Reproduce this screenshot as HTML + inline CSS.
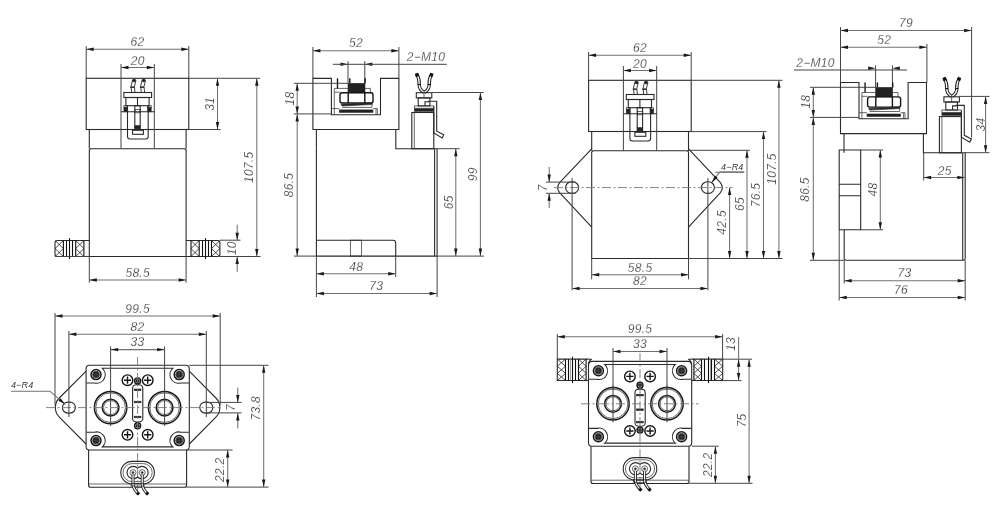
<!DOCTYPE html>
<html><head><meta charset="utf-8"><style>
html,body{margin:0;padding:0;background:#fff;}
svg{display:block;will-change:transform;}
.o{fill:none;stroke:#2a2a2a;stroke-width:1.1;}
.t{fill:none;stroke:#2a2a2a;stroke-width:0.7;}
.o2{fill:none;stroke:#151515;stroke-width:1.4;}
.o3{fill:none;stroke:#1a1a1a;stroke-width:1.5;}
.wl{fill:none;stroke:#555;stroke-width:0.5;}
.f{fill:#151515;}
.w{fill:none;stroke:#2a2a2a;stroke-width:0.9;}
.h{fill:none;stroke:#111;stroke-width:1.1;}
.hx{fill:none;stroke:#222;stroke-width:0.8;}
.t2{fill:none;stroke:#888;stroke-width:0.8;}
.f{fill:#222;stroke:#2a2a2a;stroke-width:0.6;}
.e{fill:none;stroke:#444;stroke-width:1;}
.d{fill:none;stroke:#707070;stroke-width:1.05;}
.c{fill:none;stroke:#777;stroke-width:0.9;stroke-dasharray:9 2.5 2 2.5;}
.a{fill:#1a1a1a;stroke:none;}
text{font-family:"Liberation Sans",sans-serif;font-style:italic;font-size:12px;letter-spacing:0.3px;fill:#111;stroke:#fff;stroke-width:0.28px;}
text.s{font-size:9px;letter-spacing:0.2px;stroke-width:0;fill:#333;}
</style></head><body>
<svg width="1000" height="514" viewBox="0 0 1000 514">
<rect class="o" x="86.2" y="78.3" width="102.6" height="51.2"/>
<line class="o" x1="89.3" y1="129.5" x2="89.3" y2="148.8"/>
<line class="o" x1="186.1" y1="129.5" x2="186.1" y2="148.8"/>
<path class="o" d="M89.3,256.5 V150 L90.5,148.8 H184.9 L186.1,150 V256.5 Z" />
<line class="e" x1="121" y1="64" x2="121" y2="148.8"/>
<line class="e" x1="154.3" y1="64" x2="154.3" y2="148.8"/>
<path class="w" d="M131.7,92.4 Q130,86.5 132.5,80.2 M135,92.4 Q133.3,86.5 135.9,80.7" />
<ellipse class="f" cx="134.1" cy="80.5" rx="1.7" ry="1.4"/>
<rect class="f" x="130.7" y="86.8" width="3.5" height="0.9"/>
<path class="w" d="M141.3,92.4 Q139.6,86.5 142.1,80.2 M144.6,92.4 Q142.9,86.5 145.5,80.7" />
<ellipse class="f" cx="143.7" cy="80.5" rx="1.7" ry="1.4"/>
<rect class="f" x="140.3" y="86.8" width="3.5" height="0.9"/>
<rect class="o" x="123.9" y="92.5" width="27.7" height="5"/>
<rect class="o" x="125.9" y="97.5" width="23.2" height="8.2"/>
<line class="o" x1="137.5" y1="97.5" x2="137.5" y2="105.7"/>
<rect class="f" x="123.9" y="107.2" width="3.7" height="4.6"/>
<rect class="t" x="123.9" y="105.7" width="3.7" height="1.5"/>
<rect class="f" x="147.6" y="107.2" width="3.6" height="4.6"/>
<rect class="t" x="147.6" y="105.7" width="3.6" height="1.5"/>
<line class="o" x1="121" y1="111.8" x2="154.6" y2="111.8"/>
<path class="o" d="M127.5,105.7 V136.5 Q127.5,139 130,139 H145.7 Q148.2,139 148.2,136.5 V105.7" />
<rect class="o" x="134.8" y="105.7" width="5.4" height="23.3"/>
<rect class="f" x="135" y="125.6" width="5" height="3.2"/>
<rect class="t" x="135" y="109.5" width="5" height="3.3"/>
<rect class="o" x="132.5" y="130.3" width="10.9" height="4"/>
<path class="o" d="M89.3,240.5 H57.2 Q55,240.5 55,242.7 V254.3 Q55,256.5 57.2,256.5 H89.3" />
<line class="h" x1="63.4" y1="240.5" x2="63.4" y2="256.5"/>
<path class="hx" d="M55,240.5 L63.4,248.5 M63.4,240.5 L55,248.5 M55,248.5 L63.4,256.5 M63.4,248.5 L55,256.5 " />
<line class="h" x1="75.7" y1="240.5" x2="75.7" y2="256.5"/>
<line class="h" x1="83.9" y1="240.5" x2="83.9" y2="256.5"/>
<path class="hx" d="M75.7,240.5 L83.9,248.5 M83.9,240.5 L75.7,248.5 M75.7,248.5 L83.9,256.5 M83.9,248.5 L75.7,256.5 " />
<line class="h" x1="66.5" y1="240.5" x2="66.5" y2="256.5"/>
<line class="h" x1="72.5" y1="240.5" x2="72.5" y2="256.5"/>
<line class="h" x1="69.5" y1="238.1" x2="69.5" y2="259.1"/>
<path class="o" d="M186.1,240.5 H217.7 Q219.9,240.5 219.9,242.7 V254.3 Q219.9,256.5 217.7,256.5 H186.1" />
<line class="h" x1="211.5" y1="240.5" x2="211.5" y2="256.5"/>
<path class="hx" d="M219.9,240.5 L211.5,248.5 M211.5,240.5 L219.9,248.5 M219.9,248.5 L211.5,256.5 M211.5,248.5 L219.9,256.5 " />
<line class="h" x1="199.2" y1="240.5" x2="199.2" y2="256.5"/>
<line class="h" x1="191" y1="240.5" x2="191" y2="256.5"/>
<path class="hx" d="M199.2,240.5 L191,248.5 M191,240.5 L199.2,248.5 M199.2,248.5 L191,256.5 M191,248.5 L199.2,256.5 " />
<line class="h" x1="208.5" y1="240.5" x2="208.5" y2="256.5"/>
<line class="h" x1="202.5" y1="240.5" x2="202.5" y2="256.5"/>
<line class="h" x1="205.5" y1="238.1" x2="205.5" y2="259.1"/>
<line class="e" x1="86.2" y1="46" x2="86.2" y2="78.3"/>
<line class="e" x1="188.8" y1="46" x2="188.8" y2="78.3"/>
<line class="d" x1="86.2" y1="49.3" x2="188.8" y2="49.3"/>
<polygon class="a" points="86.2,49.3 93.7,47.6 93.7,51"/>
<polygon class="a" points="188.8,49.3 181.3,47.6 181.3,51"/>
<text x="137.5" y="46" text-anchor="middle">62</text>
<line class="d" x1="121" y1="67.5" x2="154.3" y2="67.5"/>
<polygon class="a" points="121,67.5 128.5,65.8 128.5,69.2"/>
<polygon class="a" points="154.3,67.5 146.8,65.8 146.8,69.2"/>
<text x="137.65" y="64.8" text-anchor="middle">20</text>
<line class="e" x1="188.8" y1="78.3" x2="260" y2="78.3"/>
<line class="e" x1="188.8" y1="129.5" x2="220.5" y2="129.5"/>
<line class="d" x1="217.5" y1="78.3" x2="217.5" y2="129.5"/>
<polygon class="a" points="217.5,78.3 215.8,85.8 219.2,85.8"/>
<polygon class="a" points="217.5,129.5 215.8,122 219.2,122"/>
<text transform="translate(214.2,103.9) rotate(-90)" x="0" y="0" text-anchor="middle">31</text>
<line class="d" x1="256.8" y1="78.3" x2="256.8" y2="256.5"/>
<polygon class="a" points="256.8,78.3 255.1,85.8 258.5,85.8"/>
<polygon class="a" points="256.8,256.5 255.1,249 258.5,249"/>
<text transform="translate(253.4,167.2) rotate(-90)" x="0" y="0" text-anchor="middle">107.5</text>
<line class="e" x1="219.7" y1="240.2" x2="240.5" y2="240.2"/>
<line class="e" x1="219.7" y1="256.5" x2="260.5" y2="256.5"/>
<line class="e" x1="54.8" y1="256.5" x2="89.3" y2="256.5"/>
<line class="o" x1="89.3" y1="256.5" x2="186.1" y2="256.5"/>
<line class="d" x1="237.2" y1="224.8" x2="237.2" y2="240.2"/>
<polygon class="a" points="237.2,240.2 235.5,232.7 238.9,232.7"/>
<line class="d" x1="237.2" y1="256.5" x2="237.2" y2="271.8"/>
<polygon class="a" points="237.2,256.5 235.5,264 238.9,264"/>
<text transform="translate(236.2,248.3) rotate(-90)" x="0" y="0" text-anchor="middle">10</text>
<line class="e" x1="89.3" y1="256.5" x2="89.3" y2="282.7"/>
<line class="e" x1="186.1" y1="256.5" x2="186.1" y2="282.7"/>
<line class="d" x1="89.3" y1="280" x2="186.1" y2="280"/>
<polygon class="a" points="89.3,280 96.8,278.3 96.8,281.7"/>
<polygon class="a" points="186.1,280 178.6,278.3 178.6,281.7"/>
<text x="137.7" y="277" text-anchor="middle">58.5</text>
<rect class="o" x="588.6" y="80.3" width="102.6" height="51.2"/>
<line class="o" x1="591.7" y1="131.5" x2="591.7" y2="150.8"/>
<line class="o" x1="688.5" y1="131.5" x2="688.5" y2="150.8"/>
<path class="o" d="M591.7,258.5 V152 L592.9,150.8 H687.3 L688.5,152 V258.5 Z" />
<line class="e" x1="623.4" y1="66" x2="623.4" y2="150.8"/>
<line class="e" x1="656.7" y1="66" x2="656.7" y2="150.8"/>
<path class="w" d="M634.1,94.4 Q632.4,88.5 634.9,82.2 M637.4,94.4 Q635.7,88.5 638.3,82.7" />
<ellipse class="f" cx="636.5" cy="82.5" rx="1.7" ry="1.4"/>
<rect class="f" x="633.1" y="88.8" width="3.5" height="0.9"/>
<path class="w" d="M643.7,94.4 Q642,88.5 644.5,82.2 M647,94.4 Q645.3,88.5 647.9,82.7" />
<ellipse class="f" cx="646.1" cy="82.5" rx="1.7" ry="1.4"/>
<rect class="f" x="642.7" y="88.8" width="3.5" height="0.9"/>
<rect class="o" x="626.3" y="94.5" width="27.7" height="5"/>
<rect class="o" x="628.3" y="99.5" width="23.2" height="8.2"/>
<line class="o" x1="639.9" y1="99.5" x2="639.9" y2="107.7"/>
<rect class="f" x="626.3" y="109.2" width="3.7" height="4.6"/>
<rect class="t" x="626.3" y="107.7" width="3.7" height="1.5"/>
<rect class="f" x="650" y="109.2" width="3.6" height="4.6"/>
<rect class="t" x="650" y="107.7" width="3.6" height="1.5"/>
<line class="o" x1="623.4" y1="113.8" x2="657" y2="113.8"/>
<path class="o" d="M629.9,107.7 V138.5 Q629.9,141 632.4,141 H648.1 Q650.6,141 650.6,138.5 V107.7" />
<rect class="o" x="637.2" y="107.7" width="5.4" height="23.3"/>
<rect class="f" x="637.4" y="127.6" width="5" height="3.2"/>
<rect class="t" x="637.4" y="111.5" width="5" height="3.3"/>
<rect class="o" x="634.9" y="132.3" width="10.9" height="4"/>
<path class="o" d="M591.7,148.8 L559.6,182.6 Q555.8,187.6 559.6,192.6 L591.7,227.2" />
<path class="o" d="M688.5,148.8 L720.4,182.6 Q724.2,187.6 720.4,192.6 L688.5,227.2" />
<rect class="o" x="565.6" y="181.8" width="13" height="11.6" rx="5.8"/>
<rect class="o" x="701.4" y="181.8" width="13" height="11.6" rx="5.8"/>
<line class="c" x1="554" y1="187.6" x2="732.5" y2="187.6"/>
<line class="e" x1="588.6" y1="52" x2="588.6" y2="80.3"/>
<line class="e" x1="691.2" y1="52" x2="691.2" y2="80.3"/>
<line class="d" x1="588.6" y1="55.3" x2="691.2" y2="55.3"/>
<polygon class="a" points="588.6,55.3 596.1,53.6 596.1,57"/>
<polygon class="a" points="691.2,55.3 683.7,53.6 683.7,57"/>
<text x="639.9" y="51.8" text-anchor="middle">62</text>
<line class="d" x1="623.4" y1="70.5" x2="656.6" y2="70.5"/>
<polygon class="a" points="623.4,70.5 630.9,68.8 630.9,72.2"/>
<polygon class="a" points="656.6,70.5 649.1,68.8 649.1,72.2"/>
<text x="640" y="67.5" text-anchor="middle">20</text>
<line class="e" x1="691.2" y1="80.3" x2="782.5" y2="80.3"/>
<line class="e" x1="691.2" y1="131.6" x2="766.5" y2="131.6"/>
<line class="e" x1="688.5" y1="150.3" x2="749.8" y2="150.3"/>
<line class="e" x1="688.5" y1="258.5" x2="782.5" y2="258.5"/>
<line class="d" x1="778.9" y1="80.3" x2="778.9" y2="258.5"/>
<polygon class="a" points="778.9,80.3 777.2,87.8 780.6,87.8"/>
<polygon class="a" points="778.9,258.5 777.2,251 780.6,251"/>
<text transform="translate(775.8,169) rotate(-90)" x="0" y="0" text-anchor="middle">107.5</text>
<line class="d" x1="763.5" y1="131.6" x2="763.5" y2="258.5"/>
<polygon class="a" points="763.5,131.6 761.8,139.1 765.2,139.1"/>
<polygon class="a" points="763.5,258.5 761.8,251 765.2,251"/>
<text transform="translate(760.3,195) rotate(-90)" x="0" y="0" text-anchor="middle">76.5</text>
<line class="d" x1="747" y1="150.3" x2="747" y2="258.5"/>
<polygon class="a" points="747,150.3 745.3,157.8 748.7,157.8"/>
<polygon class="a" points="747,258.5 745.3,251 748.7,251"/>
<text transform="translate(743.8,204) rotate(-90)" x="0" y="0" text-anchor="middle">65</text>
<line class="d" x1="729.6" y1="187.6" x2="729.6" y2="258.5"/>
<polygon class="a" points="729.6,187.6 727.9,195.1 731.3,195.1"/>
<polygon class="a" points="729.6,258.5 727.9,251 731.3,251"/>
<text transform="translate(726.3,222.4) rotate(-90)" x="0" y="0" text-anchor="middle">42.5</text>
<line class="d" x1="715.3" y1="172.3" x2="744.2" y2="172.3"/>
<line class="d" x1="719.8" y1="171.9" x2="744.2" y2="171.9"/>
<line class="d" x1="719.8" y1="171.9" x2="711.7" y2="182.6"/>
<polygon class="a" points="711.7,182.6 717.58,177.65 714.87,175.59"/>
<text class="s" x="732.3" y="169.5" text-anchor="middle">4&#8722;R4</text>
<line class="e" x1="546" y1="182.1" x2="575.5" y2="182.1"/>
<line class="e" x1="546" y1="193.3" x2="575.5" y2="193.3"/>
<line class="d" x1="549.2" y1="166.9" x2="549.2" y2="182.1"/>
<polygon class="a" points="549.2,182.1 547.5,174.6 550.9,174.6"/>
<line class="d" x1="549.2" y1="193.3" x2="549.2" y2="208"/>
<polygon class="a" points="549.2,193.3 547.5,200.8 550.9,200.8"/>
<text transform="translate(547,187.7) rotate(-90)" x="0" y="0" text-anchor="middle">7</text>
<line class="e" x1="591.7" y1="258.5" x2="591.7" y2="279.3"/>
<line class="e" x1="688.5" y1="258.5" x2="688.5" y2="279.3"/>
<line class="d" x1="591.7" y1="274.8" x2="688.5" y2="274.8"/>
<polygon class="a" points="591.7,274.8 599.2,273.1 599.2,276.5"/>
<polygon class="a" points="688.5,274.8 681,273.1 681,276.5"/>
<text x="640.1" y="271.8" text-anchor="middle">58.5</text>
<line class="e" x1="572.1" y1="178" x2="572.1" y2="290.3"/>
<line class="e" x1="707.9" y1="178" x2="707.9" y2="290.3"/>
<line class="d" x1="572.1" y1="288.5" x2="707.9" y2="288.5"/>
<polygon class="a" points="572.1,288.5 579.6,286.8 579.6,290.2"/>
<polygon class="a" points="707.9,288.5 700.4,286.8 700.4,290.2"/>
<text x="640" y="285.4" text-anchor="middle">82</text>
<path class="o" d="M312.9,78.4 H331.4 V114.7 H380.5 V78.4 H398.9 V129.5 H312.9 Z" />
<line class="e" x1="348" y1="61.2" x2="348" y2="83.3"/>
<line class="e" x1="364.8" y1="61.2" x2="364.8" y2="83.3"/>
<line class="o2" x1="337.5" y1="78.3" x2="337.5" y2="88.4"/>
<line class="o2" x1="349.8" y1="78.3" x2="349.8" y2="83.3"/>
<line class="o2" x1="365.1" y1="78.3" x2="365.1" y2="83.3"/>
<rect class="f" x="348" y="83.3" width="17" height="9.5"/>
<path class="t" d="M334.3,114.7 V88.4 H348 M365,88.4 H370.4 V92.5 M334.3,92.2 H340" />
<path class="o2" d="M342,92.8 H371 Q373,92.8 373,95 V101 Q373,103 371,103 H342 Q340,103 340,101 V95 Q340,92.8 342,92.8 Z M348.2,92.8 V103 M364.8,92.8 V103" />
<path class="f" d="M341,104.3 L372,102.8 L372,104.5 L342,106 Z" />
<path class="t" d="M342,107.4 H372 V103" />
<rect class="f" x="339.4" y="109.9" width="33.6" height="2.5"/>
<path class="t" d="M331.4,108.6 H339.4 M373,108.6 H377.4 V114.7 M376,108.6 V114.7" />
<line class="o" x1="316.4" y1="129.5" x2="316.4" y2="148.7"/>
<path class="o" d="M395.8,129.5 V148.7 H434.6" />
<path d="M423.9,92.3 Q419,89.3 419.2,84.2 Q419.6,78.9 416.6,73.9" fill="none" stroke="#1e1e1e" stroke-width="3.3"/>
<path d="M423.9,92.3 Q419,89.3 419.2,84.2 Q419.6,78.9 416.6,73.9" fill="none" stroke="#fff" stroke-width="1.3"/>
<line x1="416.4" y1="73.3" x2="417.5" y2="76.5" stroke="#111" stroke-width="3.3"/>
<line x1="417.6" y1="84.5" x2="420.8" y2="84.5" stroke="#111" stroke-width="1.1"/>
<path d="M424.5,92.3 Q429.4,89.3 429.2,84.2 Q428.8,78.9 431.8,73.9" fill="none" stroke="#1e1e1e" stroke-width="3.3"/>
<path d="M424.5,92.3 Q429.4,89.3 429.2,84.2 Q428.8,78.9 431.8,73.9" fill="none" stroke="#fff" stroke-width="1.3"/>
<line x1="432" y1="73.3" x2="430.9" y2="76.5" stroke="#111" stroke-width="3.3"/>
<line x1="427.6" y1="84.5" x2="430.8" y2="84.5" stroke="#111" stroke-width="1.1"/>
<rect class="o" x="416.3" y="92.7" width="15.5" height="5.2"/>
<line class="t" x1="424" y1="92.7" x2="424" y2="97.9"/>
<rect class="o" x="418.2" y="97.9" width="11.7" height="8"/>
<path class="o" d="M425,105.9 V101.8 H428.5 V101.3 H436.7 V131.2 L443.8,134.8 L442.2,138 L433.8,133 V106.7" />
<rect class="t" x="414.3" y="105.9" width="19.5" height="2.3"/>
<rect class="f" x="414.3" y="108.8" width="19.5" height="2.5"/>
<rect class="o" x="411.8" y="112.5" width="22" height="36.2"/>
<line class="t" x1="414.3" y1="112.5" x2="414.3" y2="148.7"/>
<polygon class="a" points="348,64.2 340.5,62.5 340.5,65.9"/>
<polygon class="a" points="364.8,64.2 372.3,62.5 372.3,65.9"/>
<path class="o" d="M316.4,148.7 V256.1 H437.1 V148.7 H434.6 V256.1" />
<path class="o" d="M316.4,240.2 H393 Q395.7,240.2 395.7,243 V256.1" />
<rect class="t" x="350.6" y="240.2" width="10.9" height="15.9"/>
<line class="e" x1="332.8" y1="64.3" x2="446.8" y2="64.3"/>
<text x="426" y="61.2" text-anchor="middle">2&#8722;M10</text>
<line class="e" x1="312.9" y1="47" x2="312.9" y2="78.4"/>
<line class="e" x1="398.9" y1="47" x2="398.9" y2="78.4"/>
<line class="d" x1="312.9" y1="50.7" x2="398.9" y2="50.7"/>
<polygon class="a" points="312.9,50.7 320.4,49 320.4,52.4"/>
<polygon class="a" points="398.9,50.7 391.4,49 391.4,52.4"/>
<text x="355.9" y="47.4" text-anchor="middle">52</text>
<line class="e" x1="293.8" y1="83.3" x2="348" y2="83.3"/>
<line class="e" x1="293.8" y1="113.9" x2="331.4" y2="113.9"/>
<line class="d" x1="297.2" y1="83.3" x2="297.2" y2="256.1"/>
<polygon class="a" points="297.2,83.3 295.5,90.8 298.9,90.8"/>
<polygon class="a" points="297.2,113.9 295.5,106.4 298.9,106.4"/>
<polygon class="a" points="297.2,113.9 295.5,121.4 298.9,121.4"/>
<polygon class="a" points="297.2,256.1 295.5,248.6 298.9,248.6"/>
<text transform="translate(293.9,98.6) rotate(-90)" x="0" y="0" text-anchor="middle">18</text>
<text transform="translate(292.9,185) rotate(-90)" x="0" y="0" text-anchor="middle">86.5</text>
<line class="e" x1="294" y1="256.1" x2="316.4" y2="256.1"/>
<line class="e" x1="437.1" y1="256.1" x2="484" y2="256.1"/>
<line class="e" x1="437.1" y1="148.7" x2="459.5" y2="148.7"/>
<line class="d" x1="455.8" y1="148.7" x2="455.8" y2="256.1"/>
<polygon class="a" points="455.8,148.7 454.1,156.2 457.5,156.2"/>
<polygon class="a" points="455.8,256.1 454.1,248.6 457.5,248.6"/>
<text transform="translate(452.5,202.2) rotate(-90)" x="0" y="0" text-anchor="middle">65</text>
<line class="e" x1="431.8" y1="92.5" x2="483.5" y2="92.5"/>
<line class="d" x1="480.4" y1="92.5" x2="480.4" y2="256.1"/>
<polygon class="a" points="480.4,92.5 478.7,100 482.1,100"/>
<polygon class="a" points="480.4,256.1 478.7,248.6 482.1,248.6"/>
<text transform="translate(477.1,174.2) rotate(-90)" x="0" y="0" text-anchor="middle">99</text>
<line class="e" x1="395.7" y1="256.1" x2="395.7" y2="277"/>
<line class="e" x1="316.4" y1="256.1" x2="316.4" y2="297"/>
<line class="e" x1="437.1" y1="256.1" x2="437.1" y2="297"/>
<line class="d" x1="316.4" y1="273.8" x2="395.7" y2="273.8"/>
<polygon class="a" points="316.4,273.8 323.9,272.1 323.9,275.5"/>
<polygon class="a" points="395.7,273.8 388.2,272.1 388.2,275.5"/>
<text x="356.2" y="270.6" text-anchor="middle">48</text>
<line class="d" x1="316.4" y1="293.5" x2="437.1" y2="293.5"/>
<polygon class="a" points="316.4,293.5 323.9,291.8 323.9,295.2"/>
<polygon class="a" points="437.1,293.5 429.6,291.8 429.6,295.2"/>
<text x="376.3" y="289.6" text-anchor="middle">73</text>
<path class="o" d="M840.5,82.5 H859 V118.8 H908.1 V82.5 H926.5 V133.6 H840.5 Z" />
<line class="e" x1="875.6" y1="65.3" x2="875.6" y2="87.4"/>
<line class="e" x1="892.4" y1="65.3" x2="892.4" y2="87.4"/>
<line class="o2" x1="865.1" y1="82.4" x2="865.1" y2="92.5"/>
<line class="o2" x1="877.4" y1="82.4" x2="877.4" y2="87.4"/>
<line class="o2" x1="892.7" y1="82.4" x2="892.7" y2="87.4"/>
<rect class="f" x="875.6" y="87.4" width="17" height="9.5"/>
<path class="t" d="M861.9,118.8 V92.5 H875.6 M892.6,92.5 H898 V96.6 M861.9,96.3 H867.6" />
<path class="o2" d="M869.6,96.9 H898.6 Q900.6,96.9 900.6,99.1 V105.1 Q900.6,107.1 898.6,107.1 H869.6 Q867.6,107.1 867.6,105.1 V99.1 Q867.6,96.9 869.6,96.9 Z M875.8,96.9 V107.1 M892.4,96.9 V107.1" />
<path class="f" d="M868.6,108.4 L899.6,106.9 L899.6,108.6 L869.6,110.1 Z" />
<path class="t" d="M869.6,111.5 H899.6 V107.1" />
<rect class="f" x="867" y="114" width="33.6" height="2.5"/>
<path class="t" d="M859,112.7 H867 M900.6,112.7 H905 V118.8 M903.6,112.7 V118.8" />
<line class="o" x1="844" y1="133.6" x2="844" y2="152.8"/>
<path class="o" d="M923.4,133.6 V152.8 H962.2" />
<path d="M951.5,96.4 Q946.6,93.4 946.8,88.3 Q947.2,83 944.2,78" fill="none" stroke="#1e1e1e" stroke-width="3.3"/>
<path d="M951.5,96.4 Q946.6,93.4 946.8,88.3 Q947.2,83 944.2,78" fill="none" stroke="#fff" stroke-width="1.3"/>
<line x1="944" y1="77.4" x2="945.1" y2="80.6" stroke="#111" stroke-width="3.3"/>
<line x1="945.2" y1="88.6" x2="948.4" y2="88.6" stroke="#111" stroke-width="1.1"/>
<path d="M952.1,96.4 Q957,93.4 956.8,88.3 Q956.4,83 959.4,78" fill="none" stroke="#1e1e1e" stroke-width="3.3"/>
<path d="M952.1,96.4 Q957,93.4 956.8,88.3 Q956.4,83 959.4,78" fill="none" stroke="#fff" stroke-width="1.3"/>
<line x1="959.6" y1="77.4" x2="958.5" y2="80.6" stroke="#111" stroke-width="3.3"/>
<line x1="955.2" y1="88.6" x2="958.4" y2="88.6" stroke="#111" stroke-width="1.1"/>
<rect class="o" x="943.9" y="96.8" width="15.5" height="5.2"/>
<line class="t" x1="951.6" y1="96.8" x2="951.6" y2="102"/>
<rect class="o" x="945.8" y="102" width="11.7" height="8"/>
<path class="o" d="M952.6,110 V105.9 H956.1 V105.4 H964.3 V135.3 L971.4,138.9 L969.8,142.1 L961.4,137.1 V110.8" />
<rect class="t" x="941.9" y="110" width="19.5" height="2.3"/>
<rect class="f" x="941.9" y="112.9" width="19.5" height="2.5"/>
<rect class="o" x="939.4" y="116.6" width="22" height="36.2"/>
<line class="t" x1="941.9" y1="116.6" x2="941.9" y2="152.8"/>
<polygon class="a" points="875.6,68.3 868.1,66.6 868.1,70"/>
<polygon class="a" points="892.4,68.3 899.9,66.6 899.9,70"/>
<path class="o" d="M844.2,229.8 V258.6 Q844.2,260.3 845.9,260.3 H963.5 Q965.2,260.3 965.2,258.6 V152.8 H962.7 V260.3" />
<path class="o" d="M839.2,150 H860.7 V229.8 H839.2 Z M839.2,184.3 H860.7 M839.2,195.8 H860.7" />
<line class="e" x1="794" y1="70" x2="907" y2="70"/>
<text x="815.5" y="66.7" text-anchor="middle">2&#8722;M10</text>
<line class="e" x1="840.5" y1="27" x2="840.5" y2="82.5"/>
<line class="e" x1="971.6" y1="27" x2="971.6" y2="137.5"/>
<line class="e" x1="926.9" y1="44" x2="926.9" y2="82.5"/>
<line class="d" x1="840.5" y1="30.5" x2="971.6" y2="30.5"/>
<polygon class="a" points="840.5,30.5 848,28.8 848,32.2"/>
<polygon class="a" points="971.6,30.5 964.1,28.8 964.1,32.2"/>
<text x="906" y="27.2" text-anchor="middle">79</text>
<line class="d" x1="840.5" y1="47.3" x2="926.9" y2="47.3"/>
<polygon class="a" points="840.5,47.3 848,45.6 848,49"/>
<polygon class="a" points="926.9,47.3 919.4,45.6 919.4,49"/>
<text x="884.2" y="44" text-anchor="middle">52</text>
<line class="e" x1="810" y1="87.3" x2="876" y2="87.3"/>
<line class="e" x1="810" y1="117.4" x2="859" y2="117.4"/>
<line class="d" x1="813.3" y1="87.3" x2="813.3" y2="260.3"/>
<polygon class="a" points="813.3,87.3 811.6,94.8 815,94.8"/>
<polygon class="a" points="813.3,117.4 811.6,109.9 815,109.9"/>
<polygon class="a" points="813.3,117.4 811.6,124.9 815,124.9"/>
<polygon class="a" points="813.3,260.3 811.6,252.8 815,252.8"/>
<text transform="translate(810,101.8) rotate(-90)" x="0" y="0" text-anchor="middle">18</text>
<text transform="translate(809.2,189.5) rotate(-90)" x="0" y="0" text-anchor="middle">86.5</text>
<line class="e" x1="810" y1="260.3" x2="844.2" y2="260.3"/>
<line class="e" x1="959.5" y1="96.4" x2="989.5" y2="96.4"/>
<line class="e" x1="964.8" y1="152.7" x2="989.5" y2="152.7"/>
<line class="d" x1="985.6" y1="96.4" x2="985.6" y2="152.7"/>
<polygon class="a" points="985.6,96.4 983.9,103.9 987.3,103.9"/>
<polygon class="a" points="985.6,152.7 983.9,145.2 987.3,145.2"/>
<text transform="translate(984.6,124.6) rotate(-90)" x="0" y="0" text-anchor="middle">34</text>
<line class="e" x1="923.7" y1="152.7" x2="923.7" y2="180.5"/>
<line class="d" x1="923.7" y1="177.5" x2="964.8" y2="177.5"/>
<polygon class="a" points="923.7,177.5 931.2,175.8 931.2,179.2"/>
<polygon class="a" points="964.8,177.5 957.3,175.8 957.3,179.2"/>
<text x="944.7" y="174.6" text-anchor="middle">25</text>
<line class="e" x1="860.7" y1="150" x2="883" y2="150"/>
<line class="e" x1="860.7" y1="229.8" x2="883" y2="229.8"/>
<line class="d" x1="880.3" y1="150" x2="880.3" y2="229.8"/>
<polygon class="a" points="880.3,150 878.6,157.5 882,157.5"/>
<polygon class="a" points="880.3,229.8 878.6,222.3 882,222.3"/>
<text transform="translate(877,189.5) rotate(-90)" x="0" y="0" text-anchor="middle">48</text>
<line class="e" x1="839.2" y1="229.8" x2="839.2" y2="300.5"/>
<line class="e" x1="965.2" y1="260.3" x2="965.2" y2="300.5"/>
<line class="e" x1="844.2" y1="260.3" x2="844.2" y2="283.5"/>
<line class="d" x1="844.2" y1="280.8" x2="965.2" y2="280.8"/>
<polygon class="a" points="844.2,280.8 851.7,279.1 851.7,282.5"/>
<polygon class="a" points="965.2,280.8 957.7,279.1 957.7,282.5"/>
<text x="904.5" y="277.4" text-anchor="middle">73</text>
<line class="d" x1="839.2" y1="297.5" x2="965.2" y2="297.5"/>
<polygon class="a" points="839.2,297.5 846.7,295.8 846.7,299.2"/>
<polygon class="a" points="965.2,297.5 957.7,295.8 957.7,299.2"/>
<text x="901" y="294.2" text-anchor="middle">76</text>
<path class="o" d="M89.6,365.2 H185.8 Q189.3,365.2 189.3,368.7 V446.5 Q189.3,450 185.8,450 H89.6 Q86.1,450 86.1,446.5 V368.7 Q86.1,365.2 89.6,365.2 Z" />
<path class="o" d="M86.4,383 H94.5 A8.6,8.6 0 0 0 102.4,368.3 H172.8 A8.6,8.6 0 0 0 180.7,383 H189" />
<path class="o" d="M86.4,432.2 H94.5 A8.6,8.6 0 0 1 102.4,446.9 H172.8 A8.6,8.6 0 0 1 180.7,432.2 H189" />
<circle class="o3" cx="96" cy="374.6" r="5"/>
<circle class="t" cx="96" cy="374.6" r="3.6"/>
<circle class="f" cx="96" cy="374.6" r="3"/>
<path class="wl" d="M93.8,374.6 H98.2 M96,372.4 V376.8" />
<circle class="o3" cx="96" cy="440.6" r="5"/>
<circle class="t" cx="96" cy="440.6" r="3.6"/>
<circle class="f" cx="96" cy="440.6" r="3"/>
<path class="wl" d="M93.8,440.6 H98.2 M96,438.4 V442.8" />
<circle class="o3" cx="179.2" cy="374.6" r="5"/>
<circle class="t" cx="179.2" cy="374.6" r="3.6"/>
<circle class="f" cx="179.2" cy="374.6" r="3"/>
<path class="wl" d="M177,374.6 H181.4 M179.2,372.4 V376.8" />
<circle class="o3" cx="179.2" cy="440.6" r="5"/>
<circle class="t" cx="179.2" cy="440.6" r="3.6"/>
<circle class="f" cx="179.2" cy="440.6" r="3"/>
<path class="wl" d="M177,440.6 H181.4 M179.2,438.4 V442.8" />
<circle class="o2" cx="127.5" cy="380.2" r="5.3"/>
<path class="o2" d="M123.9,380.2 H131.1 M127.5,376.6 V383.8" />
<circle class="o2" cx="127.5" cy="434.8" r="5.3"/>
<path class="o2" d="M123.9,434.8 H131.1 M127.5,431.2 V438.4" />
<circle class="o2" cx="147.7" cy="380.2" r="5.3"/>
<path class="o2" d="M144.1,380.2 H151.3 M147.7,376.6 V383.8" />
<circle class="o2" cx="147.7" cy="434.8" r="5.3"/>
<path class="o2" d="M144.1,434.8 H151.3 M147.7,431.2 V438.4" />
<circle class="o3" cx="110.6" cy="407.6" r="16.2"/>
<circle class="t" cx="110.6" cy="407.6" r="14.8"/>
<circle class="o3" cx="110.6" cy="407.6" r="8.4"/>
<circle class="t" cx="110.6" cy="407.6" r="7"/>
<line class="e" x1="110.6" y1="389.1" x2="110.6" y2="426.1"/>
<circle class="o3" cx="164.6" cy="407.6" r="16.2"/>
<circle class="t" cx="164.6" cy="407.6" r="14.8"/>
<circle class="o3" cx="164.6" cy="407.6" r="8.4"/>
<circle class="t" cx="164.6" cy="407.6" r="7"/>
<line class="e" x1="164.6" y1="389.1" x2="164.6" y2="426.1"/>
<rect class="o" x="132.6" y="384.8" width="10.2" height="37.2" rx="4" ry="3.2"/>
<circle class="o2" cx="137.6" cy="380.9" r="3"/>
<circle class="f" cx="137.6" cy="380.9" r="1.8"/>
<circle class="o2" cx="137.6" cy="425.8" r="3"/>
<circle class="f" cx="137.6" cy="425.8" r="1.8"/>
<rect class="f" x="134.2" y="389" width="6.8" height="1.6"/>
<rect class="f" x="134.2" y="401.2" width="6.8" height="1.6"/>
<rect class="f" x="134.2" y="416.2" width="6.8" height="1.6"/>
<line class="c" x1="137.6" y1="357" x2="137.6" y2="492"/>
<path class="o" d="M88.6,450 V485.3 Q88.6,487.3 90.6,487.3 H184.6 Q186.6,487.3 186.6,485.3 V450" />
<line class="t" x1="88.6" y1="484" x2="186.6" y2="484"/>
<path class="o" d="M132,461.4 H143.2 A11.2,11.2 0 0 1 143.2,483.8 H132 A11.2,11.2 0 0 1 132,461.4 Z" />
<path class="t" d="M132,463.6 H143.2 A9,9 0 0 1 143.2,481.6 H132 A9,9 0 0 1 132,463.6 Z" />
<path class="o" d="M137.6,468.2 A6.2,6.2 0 1 0 137.6,477 A6.2,6.2 0 1 0 137.6,468.2 Z" />
<circle class="t" cx="133" cy="472.6" r="3"/>
<circle class="f" cx="133" cy="472.6" r="1"/>
<circle class="t" cx="142.2" cy="472.6" r="3"/>
<circle class="f" cx="142.2" cy="472.6" r="1"/>
<path d="M133,474.6 V484.6 Q133.3,488.6 138.5,494.1" fill="none" stroke="#1e1e1e" stroke-width="3"/>
<path d="M133,474.6 V484.6 Q133.3,488.6 138.5,494.1" fill="none" stroke="#fff" stroke-width="1.2"/>
<line x1="137" y1="492.4" x2="139" y2="494.6" stroke="#111" stroke-width="3"/>
<path d="M142.2,474.6 V484.6 Q142.5,488.6 147.7,494.1" fill="none" stroke="#1e1e1e" stroke-width="3"/>
<path d="M142.2,474.6 V484.6 Q142.5,488.6 147.7,494.1" fill="none" stroke="#fff" stroke-width="1.2"/>
<line x1="146.2" y1="492.4" x2="148.2" y2="494.6" stroke="#111" stroke-width="3"/>
<rect class="t" x="131.1" y="483.6" width="13" height="2.5"/>
<path class="o" d="M86.1,371.2 L59.3,398 A13.6,13.6 0 0 0 59.3,417.2 L86.1,444" />
<path class="o" d="M189.3,371.2 L215.9,398 A13.6,13.6 0 0 1 215.9,417.2 L189.3,444" />
<rect class="o" x="62.4" y="402.1" width="13" height="11" rx="5.5"/>
<rect class="o" x="199.8" y="402.1" width="13" height="11" rx="5.5"/>
<line class="c" x1="46" y1="407.6" x2="222" y2="407.6"/>
<line class="e" x1="55" y1="313" x2="55" y2="405"/>
<line class="e" x1="220.2" y1="313" x2="220.2" y2="405"/>
<line class="d" x1="55" y1="316" x2="220.2" y2="316"/>
<polygon class="a" points="55,316 62.5,314.3 62.5,317.7"/>
<polygon class="a" points="220.2,316 212.7,314.3 212.7,317.7"/>
<text x="137.6" y="312.6" text-anchor="middle">99.5</text>
<line class="e" x1="68.9" y1="331" x2="68.9" y2="417"/>
<line class="e" x1="206.3" y1="331" x2="206.3" y2="417"/>
<line class="d" x1="68.9" y1="334.2" x2="206.3" y2="334.2"/>
<polygon class="a" points="68.9,334.2 76.4,332.5 76.4,335.9"/>
<polygon class="a" points="206.3,334.2 198.8,332.5 198.8,335.9"/>
<text x="137.6" y="330.9" text-anchor="middle">82</text>
<line class="e" x1="110.6" y1="346.5" x2="110.6" y2="390"/>
<line class="e" x1="164.6" y1="346.5" x2="164.6" y2="390"/>
<line class="d" x1="110.6" y1="349.6" x2="164.6" y2="349.6"/>
<polygon class="a" points="110.6,349.6 118.1,347.9 118.1,351.3"/>
<polygon class="a" points="164.6,349.6 157.1,347.9 157.1,351.3"/>
<text x="137.6" y="346.3" text-anchor="middle">33</text>
<line class="e" x1="189.3" y1="365.3" x2="268.5" y2="365.3"/>
<line class="e" x1="186.6" y1="487.1" x2="268.5" y2="487.1"/>
<line class="d" x1="263.7" y1="365.3" x2="263.7" y2="487.1"/>
<polygon class="a" points="263.7,365.3 262,372.8 265.4,372.8"/>
<polygon class="a" points="263.7,487.1 262,479.6 265.4,479.6"/>
<text transform="translate(260.4,408.3) rotate(-90)" x="0" y="0" text-anchor="middle">73.8</text>
<line class="e" x1="186.6" y1="450" x2="232.5" y2="450"/>
<line class="d" x1="227.7" y1="450" x2="227.7" y2="487.1"/>
<polygon class="a" points="227.7,450 226,457.5 229.4,457.5"/>
<polygon class="a" points="227.7,487.1 226,479.6 229.4,479.6"/>
<text transform="translate(224.4,469.7) rotate(-90)" x="0" y="0" text-anchor="middle">22.2</text>
<line class="e" x1="206" y1="402.4" x2="241.5" y2="402.4"/>
<line class="e" x1="206" y1="412.9" x2="241.5" y2="412.9"/>
<line class="d" x1="237.8" y1="387.5" x2="237.8" y2="402.4"/>
<polygon class="a" points="237.8,402.4 236.1,394.9 239.5,394.9"/>
<line class="d" x1="237.8" y1="412.9" x2="237.8" y2="428.4"/>
<polygon class="a" points="237.8,412.9 236.1,420.4 239.5,420.4"/>
<text transform="translate(235.2,407.6) rotate(-90)" x="0" y="0" text-anchor="middle">7</text>
<line class="d" x1="10.9" y1="391.2" x2="49.8" y2="391.2"/>
<line class="d" x1="49.8" y1="391.2" x2="65.2" y2="404.3"/>
<polygon class="a" points="65.2,404.3 60.59,398.15 58.39,400.74"/>
<text class="s" x="22.2" y="387.6" text-anchor="middle">4&#8722;R4</text>
<path class="o" d="M592,361.4 H688.2 Q691.7,361.4 691.7,364.9 V442.7 Q691.7,446.2 688.2,446.2 H592 Q588.5,446.2 588.5,442.7 V364.9 Q588.5,361.4 592,361.4 Z" />
<path class="o" d="M588.8,379.2 H596.9 A8.6,8.6 0 0 0 604.8,364.5 H675.2 A8.6,8.6 0 0 0 683.1,379.2 H691.4" />
<path class="o" d="M588.8,428.4 H596.9 A8.6,8.6 0 0 1 604.8,443.1 H675.2 A8.6,8.6 0 0 1 683.1,428.4 H691.4" />
<circle class="o3" cx="598.4" cy="370.8" r="5"/>
<circle class="t" cx="598.4" cy="370.8" r="3.6"/>
<circle class="f" cx="598.4" cy="370.8" r="3"/>
<path class="wl" d="M596.2,370.8 H600.6 M598.4,368.6 V373" />
<circle class="o3" cx="598.4" cy="436.8" r="5"/>
<circle class="t" cx="598.4" cy="436.8" r="3.6"/>
<circle class="f" cx="598.4" cy="436.8" r="3"/>
<path class="wl" d="M596.2,436.8 H600.6 M598.4,434.6 V439" />
<circle class="o3" cx="681.6" cy="370.8" r="5"/>
<circle class="t" cx="681.6" cy="370.8" r="3.6"/>
<circle class="f" cx="681.6" cy="370.8" r="3"/>
<path class="wl" d="M679.4,370.8 H683.8 M681.6,368.6 V373" />
<circle class="o3" cx="681.6" cy="436.8" r="5"/>
<circle class="t" cx="681.6" cy="436.8" r="3.6"/>
<circle class="f" cx="681.6" cy="436.8" r="3"/>
<path class="wl" d="M679.4,436.8 H683.8 M681.6,434.6 V439" />
<circle class="o2" cx="629.9" cy="376.4" r="5.3"/>
<path class="o2" d="M626.3,376.4 H633.5 M629.9,372.8 V380" />
<circle class="o2" cx="629.9" cy="431" r="5.3"/>
<path class="o2" d="M626.3,431 H633.5 M629.9,427.4 V434.6" />
<circle class="o2" cx="650.1" cy="376.4" r="5.3"/>
<path class="o2" d="M646.5,376.4 H653.7 M650.1,372.8 V380" />
<circle class="o2" cx="650.1" cy="431" r="5.3"/>
<path class="o2" d="M646.5,431 H653.7 M650.1,427.4 V434.6" />
<circle class="o3" cx="613" cy="403.8" r="16.2"/>
<circle class="t" cx="613" cy="403.8" r="14.8"/>
<circle class="o3" cx="613" cy="403.8" r="8.4"/>
<circle class="t" cx="613" cy="403.8" r="7"/>
<line class="e" x1="613" y1="385.3" x2="613" y2="422.3"/>
<circle class="o3" cx="667" cy="403.8" r="16.2"/>
<circle class="t" cx="667" cy="403.8" r="14.8"/>
<circle class="o3" cx="667" cy="403.8" r="8.4"/>
<circle class="t" cx="667" cy="403.8" r="7"/>
<line class="e" x1="667" y1="385.3" x2="667" y2="422.3"/>
<rect class="o" x="635" y="389.1" width="10.2" height="37.2" rx="4" ry="3.2"/>
<circle class="o2" cx="640" cy="385.2" r="3"/>
<circle class="f" cx="640" cy="385.2" r="1.8"/>
<circle class="o2" cx="640" cy="430.1" r="3"/>
<circle class="f" cx="640" cy="430.1" r="1.8"/>
<rect class="f" x="636.6" y="394.3" width="6.8" height="1.6"/>
<rect class="f" x="636.6" y="408.9" width="6.8" height="1.6"/>
<rect class="f" x="636.6" y="421.3" width="6.8" height="1.6"/>
<line class="c" x1="640" y1="353.2" x2="640" y2="488.2"/>
<path class="o" d="M591,446.2 V481.5 Q591,483.5 593,483.5 H687 Q689,483.5 689,481.5 V446.2" />
<line class="t" x1="591" y1="480.2" x2="689" y2="480.2"/>
<path class="o" d="M634.4,457.6 H645.6 A11.2,11.2 0 0 1 645.6,480 H634.4 A11.2,11.2 0 0 1 634.4,457.6 Z" />
<path class="t" d="M634.4,459.8 H645.6 A9,9 0 0 1 645.6,477.8 H634.4 A9,9 0 0 1 634.4,459.8 Z" />
<path class="o" d="M640,464.4 A6.2,6.2 0 1 0 640,473.2 A6.2,6.2 0 1 0 640,464.4 Z" />
<circle class="t" cx="635.4" cy="468.8" r="3"/>
<circle class="f" cx="635.4" cy="468.8" r="1"/>
<circle class="t" cx="644.6" cy="468.8" r="3"/>
<circle class="f" cx="644.6" cy="468.8" r="1"/>
<path d="M635.4,470.8 V480.8 Q635.7,484.8 640.9,490.3" fill="none" stroke="#1e1e1e" stroke-width="3"/>
<path d="M635.4,470.8 V480.8 Q635.7,484.8 640.9,490.3" fill="none" stroke="#fff" stroke-width="1.2"/>
<line x1="639.4" y1="488.6" x2="641.4" y2="490.8" stroke="#111" stroke-width="3"/>
<path d="M644.6,470.8 V480.8 Q644.9,484.8 650.1,490.3" fill="none" stroke="#1e1e1e" stroke-width="3"/>
<path d="M644.6,470.8 V480.8 Q644.9,484.8 650.1,490.3" fill="none" stroke="#fff" stroke-width="1.2"/>
<line x1="648.6" y1="488.6" x2="650.6" y2="490.8" stroke="#111" stroke-width="3"/>
<rect class="t" x="633.5" y="479.8" width="13" height="2.5"/>
<path class="o" d="M588.6,359.1 H557.3 V380.5 H588.6" />
<line class="h" x1="565.5" y1="359.1" x2="565.5" y2="380.5"/>
<path class="hx" d="M557.3,359.1 L565.5,366.23 M565.5,359.1 L557.3,366.23 M557.3,366.23 L565.5,373.37 M565.5,366.23 L557.3,373.37 M557.3,373.37 L565.5,380.5 M565.5,373.37 L557.3,380.5 " />
<line class="h" x1="578.5" y1="359.1" x2="578.5" y2="380.5"/>
<line class="h" x1="586.1" y1="359.1" x2="586.1" y2="380.5"/>
<path class="hx" d="M578.5,359.1 L586.1,366.23 M586.1,359.1 L578.5,366.23 M578.5,366.23 L586.1,373.37 M586.1,366.23 L578.5,373.37 M578.5,373.37 L586.1,380.5 M586.1,373.37 L578.5,380.5 " />
<line class="h" x1="568.5" y1="359.1" x2="568.5" y2="380.5"/>
<line class="h" x1="575.5" y1="359.1" x2="575.5" y2="380.5"/>
<line class="t2" x1="570.5" y1="359.1" x2="570.5" y2="380.5"/>
<line class="h" x1="572.5" y1="356.7" x2="572.5" y2="383.1"/>
<path class="o" d="M588.6,359.2 H591.7 Q588.6,360.5 588.6,365" />
<path class="o" d="M691.4,359.1 H722.7 V380.5 H691.4" />
<line class="h" x1="714.5" y1="359.1" x2="714.5" y2="380.5"/>
<path class="hx" d="M722.7,359.1 L714.5,366.23 M714.5,359.1 L722.7,366.23 M722.7,366.23 L714.5,373.37 M714.5,366.23 L722.7,373.37 M722.7,373.37 L714.5,380.5 M714.5,373.37 L722.7,380.5 " />
<line class="h" x1="701.5" y1="359.1" x2="701.5" y2="380.5"/>
<line class="h" x1="693.9" y1="359.1" x2="693.9" y2="380.5"/>
<path class="hx" d="M701.5,359.1 L693.9,366.23 M693.9,359.1 L701.5,366.23 M701.5,366.23 L693.9,373.37 M693.9,366.23 L701.5,373.37 M701.5,373.37 L693.9,380.5 M693.9,373.37 L701.5,380.5 " />
<line class="h" x1="711.5" y1="359.1" x2="711.5" y2="380.5"/>
<line class="h" x1="704.5" y1="359.1" x2="704.5" y2="380.5"/>
<line class="t2" x1="710.5" y1="359.1" x2="710.5" y2="380.5"/>
<line class="h" x1="708.5" y1="356.7" x2="708.5" y2="383.1"/>
<path class="o" d="M691.4,359.2 H688.3 Q691.4,360.5 691.4,365" />
<line class="c" x1="600" y1="403.8" x2="698.5" y2="403.8"/>
<line class="c" x1="581" y1="403.8" x2="600" y2="403.8"/>
<line class="e" x1="557.3" y1="334" x2="557.3" y2="359.2"/>
<line class="e" x1="722.6" y1="334" x2="722.6" y2="359.2"/>
<line class="d" x1="557.3" y1="336.8" x2="722.6" y2="336.8"/>
<polygon class="a" points="557.3,336.8 564.8,335.1 564.8,338.5"/>
<polygon class="a" points="722.6,336.8 715.1,335.1 715.1,338.5"/>
<text x="640" y="333.3" text-anchor="middle">99.5</text>
<line class="e" x1="613" y1="348" x2="613" y2="390"/>
<line class="e" x1="667" y1="348" x2="667" y2="390"/>
<line class="d" x1="613" y1="351.5" x2="667" y2="351.5"/>
<polygon class="a" points="613,351.5 620.5,349.8 620.5,353.2"/>
<polygon class="a" points="667,351.5 659.5,349.8 659.5,353.2"/>
<text x="640" y="348.2" text-anchor="middle">33</text>
<line class="e" x1="722.6" y1="359.2" x2="752" y2="359.2"/>
<line class="e" x1="722.6" y1="380.6" x2="741.5" y2="380.6"/>
<line class="d" x1="738.6" y1="337" x2="738.6" y2="380.6"/>
<polygon class="a" points="738.6,359.2 736.9,366.7 740.3,366.7"/>
<polygon class="a" points="738.6,380.6 736.9,373.1 740.3,373.1"/>
<text transform="translate(735.4,344.1) rotate(-90)" x="0" y="0" text-anchor="middle">13</text>
<line class="e" x1="689.1" y1="483.3" x2="752.5" y2="483.3"/>
<line class="e" x1="691.7" y1="446.2" x2="718.5" y2="446.2"/>
<line class="d" x1="749.1" y1="359.2" x2="749.1" y2="483.3"/>
<polygon class="a" points="749.1,359.2 747.4,366.7 750.8,366.7"/>
<polygon class="a" points="749.1,483.3 747.4,475.8 750.8,475.8"/>
<text transform="translate(745.6,420.4) rotate(-90)" x="0" y="0" text-anchor="middle">75</text>
<line class="d" x1="715.4" y1="446.2" x2="715.4" y2="483.3"/>
<polygon class="a" points="715.4,446.2 713.7,453.7 717.1,453.7"/>
<polygon class="a" points="715.4,483.3 713.7,475.8 717.1,475.8"/>
<text transform="translate(712.1,464.8) rotate(-90)" x="0" y="0" text-anchor="middle">22.2</text>
</svg></body></html>
